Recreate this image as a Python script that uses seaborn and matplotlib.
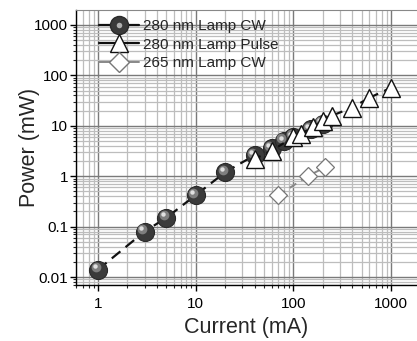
import numpy as np
import pandas as pd
import matplotlib
matplotlib.use("Agg")
import matplotlib.pyplot as plt
import matplotlib.transforms as mtransforms
from matplotlib.lines import Line2D
from matplotlib.legend_handler import HandlerTuple
import seaborn as sns

# data
cw280_current = [1, 3, 5, 10, 20, 40, 60, 80, 100, 150, 200]
cw280_power = [0.014, 0.08, 0.15, 0.42, 1.2, 2.6, 3.6, 5.0, 6.0, 8.5, 11.0]
pulse280_current = [40, 60, 100, 120, 160, 200, 250, 400, 600, 1000]
pulse280_power = [2.2, 3.2, 6.0, 7.0, 9.5, 12.5, 16.0, 23.0, 36.0, 57.0]
cw265_current = [70, 140, 210]
cw265_power = [0.42, 1.0, 1.5]
labels = ["280 nm Lamp CW", "280 nm Lamp Pulse", "265 nm Lamp CW"]
x_ticks = [1, 10, 100, 1000]
x_tick_labels = ["1", "10", "100", "1000"]
y_ticks = [0.01, 0.1, 1, 10, 100, 1000]
y_tick_labels = ["0.01", "0.1", "1", "10", "100", "1000"]

sns.set_style("white")
plt.rcParams["font.family"] = ["Liberation Sans", "DejaVu Sans"]

fig = plt.figure(figsize=(4.17, 3.41), dpi=100)
ax = fig.add_axes([76 / 417, 56 / 341, 1 - 76 / 417, 275 / 341])
ax.set_xscale("log")
ax.set_yscale("log")

df_cw = pd.DataFrame({"x": cw280_current, "y": cw280_power})
df_pu = pd.DataFrame({"x": pulse280_current, "y": pulse280_power})
df_265 = pd.DataFrame({"x": cw265_current, "y": cw265_power})

sns.lineplot(data=df_cw, x="x", y="y", ax=ax, color="#111111", linestyle=(0, (5, 3)),
             linewidth=1.6, marker="o", markersize=13, markerfacecolor="#3a3a3a",
             markeredgecolor="#2a2a2a", markeredgewidth=0.8, zorder=3, sort=False)
# sphere highlight
ax.plot(cw280_current, cw280_power, linestyle="none", marker="o", markersize=7,
        markerfacecolor="#7e7e7e", markeredgecolor="none",
        transform=ax.transData + mtransforms.ScaledTranslation(-1.8 / 72, 1.8 / 72, fig.dpi_scale_trans),
        zorder=3.1)
ax.plot(cw280_current, cw280_power, linestyle="none", marker="o", markersize=3.2,
        markerfacecolor="#e0e0e0", markeredgecolor="none",
        transform=ax.transData + mtransforms.ScaledTranslation(-2.4 / 72, 2.4 / 72, fig.dpi_scale_trans),
        zorder=3.2)

sns.lineplot(data=df_pu, x="x", y="y", ax=ax, color="#111111", linestyle=(0, (3, 3)),
             linewidth=1.6, marker="^", markersize=12.5, markerfacecolor="white",
             markeredgecolor="#111111", markeredgewidth=1.0, zorder=4, sort=False)
sns.lineplot(data=df_265, x="x", y="y", ax=ax, color="#888888", linestyle=(0, (4, 3)),
             linewidth=1.4, marker="D", markersize=9, markerfacecolor="white",
             markeredgecolor="#777777", markeredgewidth=0.9, zorder=4, sort=False)

ax.set_xlim(0.595, 1841)
ax.set_ylim(0.00695, 1983)
ax.set_xticks(x_ticks)
ax.set_xticklabels(x_tick_labels)
ax.set_yticks(y_ticks)
ax.set_yticklabels(y_tick_labels)

ax.grid(which="major", color="#7a7a7a", linewidth=1.0)
ax.grid(which="minor", color="#bdbdbd", linewidth=0.9)
ax.set_axisbelow(True)
ax.tick_params(which="major", direction="out", length=4, width=1, labelsize=11,
               bottom=True, left=True, colors="black")
ax.tick_params(axis="x", which="major", pad=5)
ax.tick_params(axis="y", which="major", pad=1.5)
ax.tick_params(which="minor", direction="out", length=2.5, width=0.8, bottom=True, left=True)
for s in ["left", "bottom"]:
    ax.spines[s].set_color("black")
    ax.spines[s].set_linewidth(1.0)
ax.spines["top"].set_color("#888888")
ax.spines["right"].set_visible(False)

ax.set_xlabel("Current (mA)", fontsize=15.5, labelpad=4)
ax.set_ylabel("Power (mW)", fontsize=15.5, labelpad=-4)

h_cw = (Line2D([], [], color="#111111", linewidth=1.6, marker="o", markersize=13,
               markerfacecolor="#3a3a3a", markeredgecolor="#2a2a2a"),
        Line2D([], [], linestyle="none", marker="o", markersize=4, markerfacecolor="#b0b0b0",
               markeredgecolor="none"))
h_pu = Line2D([], [], color="#111111", linewidth=1.6, marker="^", markersize=12.5,
              markerfacecolor="white", markeredgecolor="#111111")
h_265 = Line2D([], [], color="#888888", linewidth=1.4, marker="D", markersize=10,
               markerfacecolor="white", markeredgecolor="#777777")
ax.legend([h_cw, h_pu, h_265], labels, loc="upper left", bbox_to_anchor=(0.04, 1.0),
          frameon=False, fontsize=11, handlelength=2.6, handletextpad=0.3,
          labelspacing=0.3, borderaxespad=0.2,
          handler_map={tuple: HandlerTuple(ndivide=1)})

fig.savefig("out.png", dpi=100)
